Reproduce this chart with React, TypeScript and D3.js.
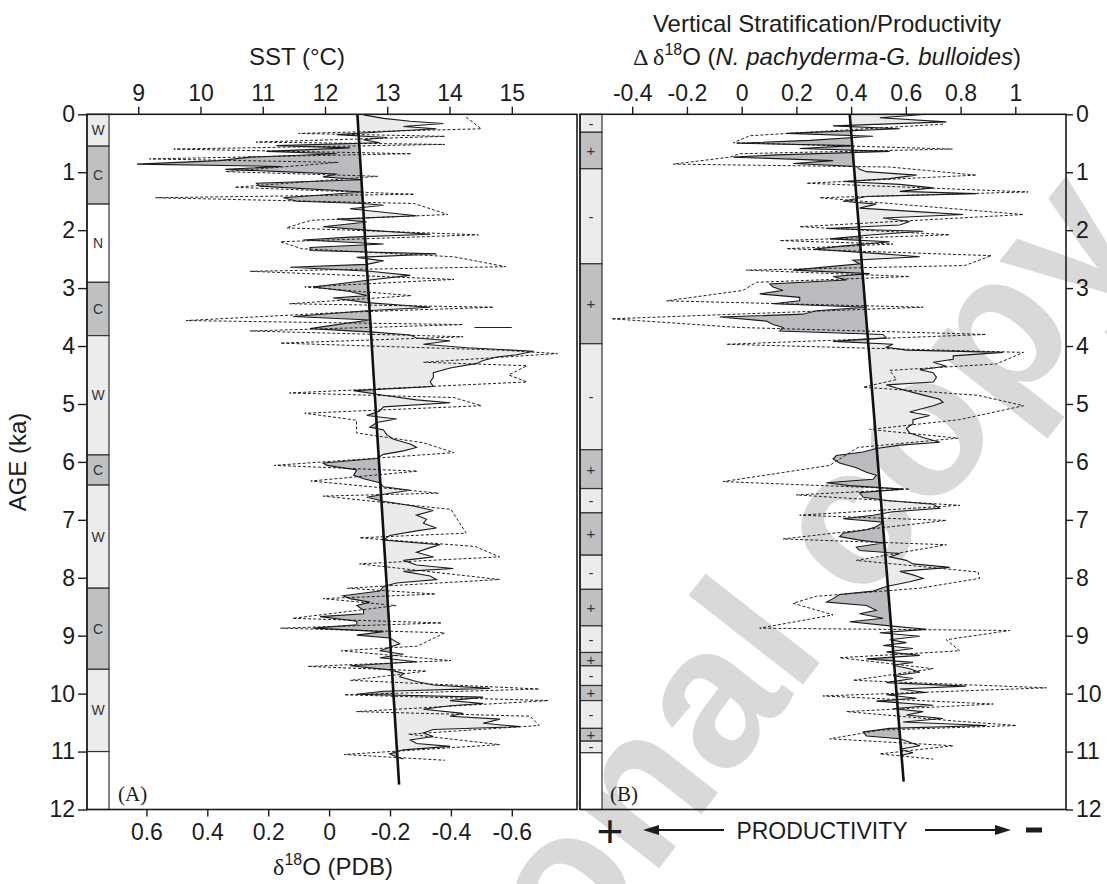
import { useRef, useEffect } from "react";
import * as d3 from "d3";

const FONT = "'Liberation Sans', Arial, Helvetica, sans-serif";
const SERIF = "'Liberation Serif', 'Times New Roman', serif";
const INK = "#1c1c1c";
const LIGHT = "#ebebeb";
const DARK = "#babbbe";

// ---- panel A : SST (solid), ages in ka ----
const sstAge = [
  0.01, 0.07, 0.12, 0.16, 0.21, 0.25, 0.3, 0.35, 0.4, 0.44,
  0.49, 0.54, 0.58, 0.64, 0.68, 0.74, 0.8, 0.86, 0.9, 0.95,
  0.99, 1.03, 1.08, 1.13, 1.19, 1.24, 1.34, 1.44, 1.5, 1.54,
  1.57, 1.63, 1.69, 1.75, 1.81, 1.86, 1.94, 2.0, 2.07, 2.12,
  2.17, 2.24, 2.3, 2.35, 2.41, 2.47, 2.53, 2.59, 2.64, 2.71,
  2.78, 2.86, 2.98, 3.06, 3.13, 3.17, 3.25, 3.33, 3.39, 3.49,
  3.55, 3.63, 3.7, 3.76, 3.81, 3.86, 3.91, 3.97, 4.03, 4.09,
  4.15, 4.19, 4.25, 4.3, 4.38, 4.46, 4.54, 4.62, 4.7, 4.77,
  4.85, 4.93, 4.98, 5.05, 5.12, 5.2, 5.26, 5.32, 5.4, 5.45,
  5.53, 5.61, 5.69, 5.75, 5.81, 5.87, 5.94, 6.02, 6.06, 6.14,
  6.23, 6.29, 6.36, 6.43, 6.49, 6.54, 6.61, 6.68, 6.76, 6.84,
  6.92, 6.99, 7.06, 7.14, 7.19, 7.27, 7.35, 7.43, 7.48, 7.56,
  7.64, 7.7, 7.78, 7.84, 7.89, 7.97, 8.03, 8.09, 8.15, 8.23,
  8.31, 8.36, 8.42, 8.48, 8.56, 8.62, 8.67, 8.75, 8.81, 8.87,
  8.93, 8.99, 9.04, 9.14, 9.2, 9.26, 9.32, 9.38, 9.45, 9.52,
  9.59, 9.65, 9.71, 9.79, 9.85, 9.91, 9.96, 10.01, 10.06, 10.12,
  10.17, 10.21, 10.27, 10.34, 10.39, 10.44, 10.51, 10.57, 10.62, 10.68,
  10.74, 10.8, 10.86, 10.91, 10.97, 11.04, 11.09, 11.13,
];
const sstVal = [
  12.62, 12.94, 13.37, 13.9, 13.26, 13.79, 12.94, 12.19, 12.99, 12.62,
  12.88, 11.22, 12.4, 11.06, 12.19, 10.8, 10.3, 8.98, 11.3, 10.4,
  11.3, 12.19, 11.97, 12.6, 10.9, 10.95, 12.62, 11.33, 11.55, 12.62,
  12.94, 12.4, 12.94, 13.47, 12.19, 12.67, 11.97, 12.67, 13.69, 12.4,
  11.65, 12.94, 11.76, 11.76, 13.79, 12.51, 12.94, 12.67, 11.44, 12.72,
  13.37, 12.72, 11.81, 12.4, 12.67, 12.13, 12.67, 13.69, 12.67, 11.49,
  12.72, 12.19, 11.76, 12.78, 13.37, 13.47, 14.01, 13.58, 14.28, 15.35,
  15.08, 14.76, 14.54, 14.44, 14.01, 13.74, 13.74, 13.69, 13.74, 12.46,
  12.94, 13.47, 14.01, 12.94, 12.88, 12.67, 13.15, 12.83, 12.72, 12.94,
  12.99, 13.1, 13.37, 13.47, 13.26, 12.94, 12.83, 11.97, 12.03, 12.51,
  12.46, 12.62, 12.88, 12.94, 13.37, 13.04, 12.67, 12.94, 13.42, 13.74,
  13.47, 13.63, 13.58, 13.79, 13.47, 13.04, 12.94, 13.85, 13.69, 13.47,
  13.74, 13.26, 13.47, 14.06, 13.26, 13.69, 13.79, 13.15, 12.94, 12.88,
  12.29, 12.4, 12.72, 12.51, 12.62, 12.62, 11.92, 12.51, 12.51, 11.81,
  12.94, 12.51, 13.04, 13.2, 13.04, 12.88, 13.26, 12.88, 13.47, 12.4,
  13.04, 13.26, 13.2, 13.47, 13.74, 14.65, 12.94, 12.51, 14.54, 14.01,
  14.54, 14.01, 13.58, 14.22, 14.01, 14.81, 14.54, 15.13, 13.74, 13.58,
  13.74, 13.37, 13.47, 14.01, 13.26, 13.04, 13.15, 13.26,
];

// ---- panel A : d18O (PDB) (dashed) ----
const d18Age = [
  0.05, 0.25, 0.33, 0.38, 0.48, 0.52, 0.6, 0.68, 0.77, 0.83,
  0.99, 1.07, 1.26, 1.38, 1.44, 1.54, 1.73, 1.83, 1.96, 2.08,
  2.2, 2.32, 2.46, 2.63, 2.71, 2.85, 2.98, 3.13, 3.27, 3.33,
  3.42, 3.56, 3.63, 3.74, 3.84, 3.95, 4.07, 4.13, 4.28, 4.34,
  4.5, 4.62, 4.81, 4.89, 5.03, 5.16, 5.28, 5.5, 5.67, 5.84,
  6.06, 6.16, 6.33, 6.54, 6.59, 6.82, 7.23, 7.31, 7.46, 7.64,
  7.76, 8.03, 8.18, 8.28, 8.36, 8.48, 8.7, 8.78, 8.87, 8.95,
  9.18, 9.26, 9.43, 9.53, 9.61, 9.77, 9.92, 10.02, 10.12, 10.31,
  10.39, 10.55, 10.7, 10.88, 11.05, 11.15,
];
const d18Val = [
  -0.45, -0.5, 0.1, -0.38, 0.24, -0.38, 0.51, -0.27, 0.59, -0.03,
  0.34, -0.16, 0.31, -0.28, 0.57, -0.28, -0.39, 0.06, 0.14, -0.49,
  0.16, 0.09, -0.41, -0.58, 0.26, -0.41, 0.08, -0.27, 0.13, -0.54,
  -0.04, 0.47, -0.44, 0.26, -0.44, 0.16, -0.56, -0.75, -0.31, -0.65,
  -0.59, -0.65, 0.13, -0.41, -0.5, 0.08, -0.09, -0.09, -0.31, -0.41,
  0.18, -0.29, 0.06, -0.36, 0.02, -0.4, -0.45, -0.1, -0.48, -0.56,
  -0.1, -0.56, -0.06, -0.35, 0.02, -0.22, 0.12, -0.37, 0.16, -0.38,
  -0.29, -0.04, -0.4, 0.07, -0.32, -0.07, -0.69, -0.05, -0.72, -0.09,
  -0.66, -0.69, -0.26, -0.56, -0.05, -0.38,
];

// ---- panel B : delta d18O N. pachyderma - G. bulloides (solid) ----
const strAge = [
  0.0, 0.06, 0.13, 0.2, 0.25, 0.33, 0.38, 0.45, 0.5, 0.54,
  0.59, 0.64, 0.7, 0.74, 0.8, 0.85, 0.9, 0.95, 0.99, 1.05,
  1.11, 1.16, 1.21, 1.27, 1.33, 1.37, 1.42, 1.5, 1.55, 1.62,
  1.68, 1.73, 1.79, 1.85, 1.91, 1.97, 2.02, 2.08, 2.15, 2.2,
  2.28, 2.33, 2.4, 2.46, 2.52, 2.58, 2.63, 2.69, 2.75, 2.8,
  2.86, 2.93, 2.98, 3.04, 3.1, 3.16, 3.22, 3.27, 3.33, 3.39,
  3.45, 3.5, 3.57, 3.63, 3.68, 3.74, 3.8, 3.86, 3.92, 3.97,
  4.02, 4.07, 4.11, 4.17, 4.23, 4.28, 4.35, 4.41, 4.46, 4.54,
  4.62, 4.67, 4.74, 4.8, 4.86, 4.92, 4.97, 5.03, 5.09, 5.14,
  5.2, 5.27, 5.34, 5.42, 5.5, 5.58, 5.66, 5.71, 5.77, 5.83,
  5.89, 5.95, 6.02, 6.1, 6.18, 6.23, 6.3, 6.36, 6.41, 6.47,
  6.53, 6.61, 6.67, 6.73, 6.8, 6.86, 6.92, 6.98, 7.04, 7.12,
  7.17, 7.23, 7.29, 7.35, 7.4, 7.47, 7.53, 7.58, 7.64, 7.7,
  7.76, 7.82, 7.89, 7.95, 8.01, 8.07, 8.15, 8.23, 8.29, 8.36,
  8.42, 8.48, 8.56, 8.62, 8.7, 8.76, 8.83, 8.89, 8.95, 9.01,
  9.07, 9.12, 9.17, 9.22, 9.28, 9.34, 9.4, 9.46, 9.51, 9.57,
  9.63, 9.69, 9.74, 9.81, 9.87, 9.92, 9.98, 10.02, 10.08, 10.13,
  10.2, 10.26, 10.31, 10.37, 10.43, 10.49, 10.55, 10.6, 10.66, 10.73,
  10.78, 10.84, 10.9, 10.96, 11.02, 11.07,
];
const strVal = [
  0.675, 0.505, 0.748, 0.334, 0.578, 0.164, 0.48, 0.249, -0.019, 0.407,
  0.212, 0.541, 0.127, -0.031, 0.334, 0.188, 0.419, 0.431, 0.456, 0.639,
  0.541, 0.371, 0.578, 0.7, 0.578, 0.858, 0.456, 0.371, 0.492, 0.431,
  0.639, 0.809, 0.517, 0.614, 0.578, 0.31, 0.663, 0.48, 0.322, 0.541,
  0.358, 0.261, 0.492, 0.651, 0.407, 0.431, 0.322, 0.188, 0.468, 0.334,
  0.383, 0.103, 0.115, 0.151, 0.066, 0.212, 0.212, 0.115, 0.456, 0.273,
  0.224, -0.08, 0.09, 0.115, 0.151, 0.139, 0.517, 0.529, 0.334, 0.553,
  0.529, 0.602, 0.955, 0.773, 0.773, 0.7, 0.748, 0.651, 0.7, 0.712,
  0.7, 0.529, 0.578, 0.626, 0.675, 0.724, 0.736, 0.7, 0.651, 0.614,
  0.687, 0.626, 0.626, 0.602, 0.614, 0.663, 0.724, 0.578, 0.492, 0.444,
  0.346, 0.334, 0.358, 0.419, 0.456, 0.492, 0.48, 0.31, 0.395, 0.59,
  0.431, 0.444, 0.541, 0.7, 0.724, 0.553, 0.48, 0.371, 0.517, 0.492,
  0.456, 0.371, 0.358, 0.431, 0.517, 0.419, 0.431, 0.578, 0.541, 0.602,
  0.626, 0.76, 0.578, 0.626, 0.663, 0.614, 0.529, 0.48, 0.358, 0.334,
  0.31, 0.456, 0.492, 0.431, 0.517, 0.395, 0.541, 0.675, 0.505, 0.651,
  0.541, 0.602, 0.517, 0.626, 0.529, 0.651, 0.456, 0.626, 0.553, 0.614,
  0.651, 0.553, 0.626, 0.529, 0.82, 0.578, 0.675, 0.529, 0.639, 0.492,
  0.7, 0.553, 0.663, 0.602, 0.736, 0.59, 0.894, 0.541, 0.444, 0.456,
  0.578, 0.614, 0.651, 0.578, 0.626, 0.578,
];

// ---- panel B : dashed ----
const strDashAge = [
  0.17, 0.37, 0.49, 0.6, 0.68, 0.74, 0.86, 0.91, 1.05, 1.19,
  1.34, 1.44, 1.73, 1.94, 2.08, 2.18, 2.24, 2.32, 2.44, 2.61,
  2.69, 2.8, 2.9, 3.04, 3.22, 3.33, 3.53, 3.68, 3.8, 3.97,
  4.11, 4.31, 4.42, 4.58, 4.71, 4.85, 5.03, 5.27, 5.44, 5.59,
  5.75, 6.06, 6.34, 6.47, 6.57, 6.75, 6.92, 7.01, 7.33, 7.43,
  7.7, 7.9, 8.01, 8.18, 8.32, 8.44, 8.64, 8.87, 8.91, 9.07,
  9.26, 9.38, 9.57, 9.77, 9.9, 10.04, 10.18, 10.31, 10.47, 10.55,
  10.63, 10.78, 10.9, 11.04, 11.13,
];
const strDashVal = [
  0.736, 0.03, -0.03, 0.77, -0.007, -0.044, -0.25, 0.541, 0.858, 0.237,
  1.047, 0.285, 1.03, 0.212, 0.76, 0.139, 0.553, 0.164, 0.913, 0.815,
  0.017, 0.614, 0.054, 0.005, -0.275, 0.663, -0.476, -0.007, 0.894, -0.056,
  1.03, 0.93, 0.541, 0.566, 0.444, 0.864, 1.03, 0.797, 0.468, 0.791,
  0.425, 0.322, -0.068, 0.614, 0.2, 0.797, 0.212, 0.748, 0.151, 0.748,
  0.419, 0.864, 0.87, 0.651, 0.273, 0.188, 0.334, 0.066, 0.98, 0.748,
  0.797, 0.358, 0.7, 0.407, 1.114, 0.297, 0.919, 0.383, 0.773, 1.004,
  0.505, 0.322, 0.773, 0.505, 0.7,
];

// trend lines (age, value)
const trendAgeA = [0, 11.57];
const trendSstA = [12.52, 13.19];
const trendAgeB = [0, 11.52];
const trendValB = [0.395, 0.592];

// single bar in panel A near 3.7 ka
const sstBarAge = 3.68;
const sstBarRange = [14.4, 15.0];

// climate / productivity zones
const bandEdgesA = [0, 0.55, 1.55, 2.9, 3.82, 5.88, 6.4, 8.18, 9.58, 11.0, 12];
const bandLabelsA = ["W", "C", "N", "C", "W", "C", "W", "C", "W", ""];
const bandEdgesB = [0, 0.31, 0.94, 2.58, 3.96, 5.79, 6.46, 6.88, 7.61, 8.2, 8.83, 9.29, 9.52, 9.86, 10.12, 10.6, 10.82, 11.02, 12];
const bandLabelsB = ["-", "+", "-", "+", "-", "+", "-", "+", "-", "+", "-", "+", "-", "+", "-", "+", "-", ""];

// ticks
const ageTicks = [0, 1, 2, 3, 4, 5, 6, 7, 8, 9, 10, 11, 12];
const sstTicks = [9, 10, 11, 12, 13, 14, 15];
const d18Ticks = [0.6, 0.4, 0.2, 0, -0.2, -0.4, -0.6];
const strTicks = [-0.4, -0.2, 0, 0.2, 0.4, 0.6, 0.8, 1];

const Y0 = 114.3;
const Y1 = 809.5;
const AL = 87, AR = 577;
const BL = 580, BR = 1066;
const BAND_W = 22;

const bandFill = (lab: string) =>
  lab === "W" || lab === "-" ? "#ececec" : lab === "C" || lab === "+" ? "#bfc0c2" : "#ffffff";

function styleAxis(g: any) {
  g.select(".domain").remove();
  g.attr("font-family", FONT).attr("font-size", 23);
  g.selectAll(".tick line").attr("stroke", INK).attr("stroke-width", 1.4);
  g.selectAll(".tick text").attr("fill", INK);
}

export default function App() {
  const svgRef = useRef<SVGSVGElement>(null);

  useEffect(() => {
    const svg = d3.select(svgRef.current);
    svg.selectAll(".plot").remove();
    const root = svg.append("g").attr("class", "plot");
    const defs = root.append("defs");

    const y = d3.scaleLinear().domain([0, 12]).range([Y0, Y1]);
    const xSst = d3.scaleLinear().domain([9, 15]).range([138.2, 511.8]);
    const xD18 = d3.scaleLinear().domain([0.6, -0.6]).range([146.4, 511.8]);
    const xStr = d3.scaleLinear().domain([-0.4, 1]).range([632.2, 1015.3]);

    const drawPanel = (o: any) => {
      const g = root.append("g");
      const bands = o.labels.map((lab: string, i: number) => ({ lab, a0: o.edges[i], a1: o.edges[i + 1] }));
      g.selectAll("rect.band")
        .data(bands)
        .join("rect")
        .attr("class", "band")
        .attr("x", o.left)
        .attr("width", BAND_W)
        .attr("y", (d: any) => y(d.a0))
        .attr("height", (d: any) => y(d.a1) - y(d.a0))
        .attr("fill", (d: any) => bandFill(d.lab))
        .attr("stroke", "#333")
        .attr("stroke-width", 1.2);
      g.selectAll("text.band")
        .data(bands.filter((d: any) => d.lab))
        .join("text")
        .attr("class", "band")
        .attr("x", o.left + BAND_W / 2)
        .attr("y", (d: any) => (y(d.a0) + y(d.a1)) / 2)
        .attr("dy", "0.36em")
        .attr("text-anchor", "middle")
        .attr("font-family", FONT)
        .attr("font-size", o.bandFont)
        .attr("fill", "#333")
        .text((d: any) => d.lab);

      const trend = d3.scaleLinear().domain(o.trendAge).range(o.trendVal);
      const pts = o.ages.map((a: number, i: number) => [a, o.vals[i]]);
      const inner = o.left + BAND_W;
      const xt0 = o.x(trend(0));
      const xt1 = o.x(trend(12));
      defs.append("clipPath").attr("id", o.id + "-light")
        .append("polygon")
        .attr("points", [[xt0, Y0], [xt1, Y1], [o.right, Y1], [o.right, Y0]].join(" "));
      defs.append("clipPath").attr("id", o.id + "-dark")
        .append("polygon")
        .attr("points", [[inner, Y0], [xt0, Y0], [xt1, Y1], [inner, Y1]].join(" "));

      const area = d3.area<any>()
        .y((d) => y(d[0]))
        .x0((d) => o.x(trend(d[0])))
        .x1((d) => o.x(d[1]));
      g.append("path").attr("d", area(pts)).attr("fill", LIGHT).attr("clip-path", `url(#${o.id}-light)`);
      g.append("path").attr("d", area(pts)).attr("fill", DARK).attr("clip-path", `url(#${o.id}-dark)`);

      const dashPts = o.dashAges.map((a: number, i: number) => [a, o.dashVals[i]]);
      g.append("path")
        .attr("d", d3.line<any>().x((d) => o.xDash(d[1])).y((d) => y(d[0]))(dashPts))
        .attr("fill", "none")
        .attr("stroke", "#222")
        .attr("stroke-width", 1)
        .attr("stroke-dasharray", "3,2");

      g.append("path")
        .attr("d", d3.line<any>().x((d) => o.x(d[1])).y((d) => y(d[0]))(pts))
        .attr("fill", "none")
        .attr("stroke", "#1a1a1a")
        .attr("stroke-width", 1.1);

      g.append("line")
        .attr("x1", o.x(o.trendVal[0])).attr("y1", y(o.trendAge[0]))
        .attr("x2", o.x(o.trendVal[1])).attr("y2", y(o.trendAge[1]))
        .attr("stroke", "#111").attr("stroke-width", 2.6);

      g.append("rect")
        .attr("x", o.left).attr("y", Y0)
        .attr("width", o.right - o.left).attr("height", Y1 - Y0)
        .attr("fill", "none").attr("stroke", INK).attr("stroke-width", 1.6);
      return g;
    };

    const gA = drawPanel({
      id: "pa", left: AL, right: AR, edges: bandEdgesA, labels: bandLabelsA, bandFont: 14,
      x: xSst, ages: sstAge, vals: sstVal, xDash: xD18, dashAges: d18Age, dashVals: d18Val,
      trendAge: trendAgeA, trendVal: trendSstA,
    });
    gA.append("line")
      .attr("x1", xSst(sstBarRange[0])).attr("x2", xSst(sstBarRange[1]))
      .attr("y1", y(sstBarAge)).attr("y2", y(sstBarAge))
      .attr("stroke", "#222").attr("stroke-width", 1.2);

    drawPanel({
      id: "pb", left: BL, right: BR, edges: bandEdgesB, labels: bandLabelsB, bandFont: 15,
      x: xStr, ages: strAge, vals: strVal, xDash: xStr, dashAges: strDashAge, dashVals: strDashVal,
      trendAge: trendAgeB, trendVal: trendValB,
    });

    const fmt = (d: any) => String(d);
    root.append("g").attr("transform", `translate(${AL},0)`)
      .call(d3.axisLeft(y).tickValues(ageTicks).tickFormat(fmt).tickSize(9).tickPadding(3))
      .call(styleAxis);
    root.append("g").attr("transform", `translate(${BR},0)`)
      .call(d3.axisRight(y).tickValues(ageTicks).tickFormat(fmt).tickSize(7).tickPadding(3))
      .call(styleAxis);
    root.append("g").attr("transform", `translate(0,${Y0})`)
      .call(d3.axisTop(xSst).tickValues(sstTicks).tickFormat(fmt).tickSize(7.5).tickPadding(6))
      .call(styleAxis);
    root.append("g").attr("transform", `translate(0,${Y1})`)
      .call(d3.axisBottom(xD18).tickValues(d18Ticks).tickFormat(fmt).tickSize(7).tickPadding(7))
      .call(styleAxis);
    root.append("g").attr("transform", `translate(0,${Y0})`)
      .call(d3.axisTop(xStr).tickValues(strTicks).tickFormat(fmt).tickSize(7.5).tickPadding(6))
      .call(styleAxis);
  }, []);

  return (
    <svg
      ref={svgRef}
      width={1107}
      height={884}
      style={{ position: "absolute", left: 0, top: 0, background: "#fff" }}
    >
      <text
        transform="translate(1150,240) rotate(-52)"
        textAnchor="end"
        fontFamily={FONT}
        fontWeight="bold"
        fontSize={200}
        fill="#d9d9d9"
      >
        Personal copy
      </text>

      <text x={297} y={65} textAnchor="middle" fontFamily={FONT} fontSize={24} fill={INK}>
        SST (°C)
      </text>
      <text x={827} y={31.5} textAnchor="middle" fontFamily={FONT} fontSize={24} fill={INK}>
        Vertical Stratification/Productivity
      </text>
      <text x={827} y={65} textAnchor="middle" fontFamily={FONT} fontSize={24} fill={INK}>
        <tspan fontFamily={SERIF}>Δ δ</tspan>
        <tspan fontSize={16} dy={-10}>18</tspan>
        <tspan dy={10}>O (</tspan>
        <tspan fontStyle="italic">N. pachyderma-G. bulloides</tspan>
        <tspan>)</tspan>
      </text>
      <text x={333} y={875} textAnchor="middle" fontFamily={FONT} fontSize={24} fill={INK}>
        <tspan fontFamily={SERIF}>δ</tspan>
        <tspan fontSize={16} dy={-10}>18</tspan>
        <tspan dy={10}>O (PDB)</tspan>
      </text>
      <text
        transform="translate(26,462) rotate(-90)"
        textAnchor="middle"
        fontFamily={FONT}
        fontSize={24}
        fill={INK}
      >
        AGE (ka)
      </text>
      <text x={118} y={801} fontFamily={SERIF} fontSize={21} fill={INK}>
        (A)
      </text>
      <text x={610} y={801} fontFamily={SERIF} fontSize={21} fill={INK}>
        (B)
      </text>

      <text x={610} y={847} textAnchor="middle" fontFamily={FONT} fontSize={46} fill={INK}>
        +
      </text>
      <line x1={724} y1={830} x2={656} y2={830} stroke={INK} strokeWidth={1.8} />
      <polygon points="643,830 659,825 659,835" fill={INK} />
      <text x={822} y={838.5} textAnchor="middle" fontFamily={FONT} fontSize={23} fill={INK}>
        PRODUCTIVITY
      </text>
      <line x1={925} y1={830} x2={998} y2={830} stroke={INK} strokeWidth={1.8} />
      <polygon points="1011,830 995,825 995,835" fill={INK} />
      <rect x={1026} y={827.5} width={16} height={5} fill={INK} />
    </svg>
  );
}
